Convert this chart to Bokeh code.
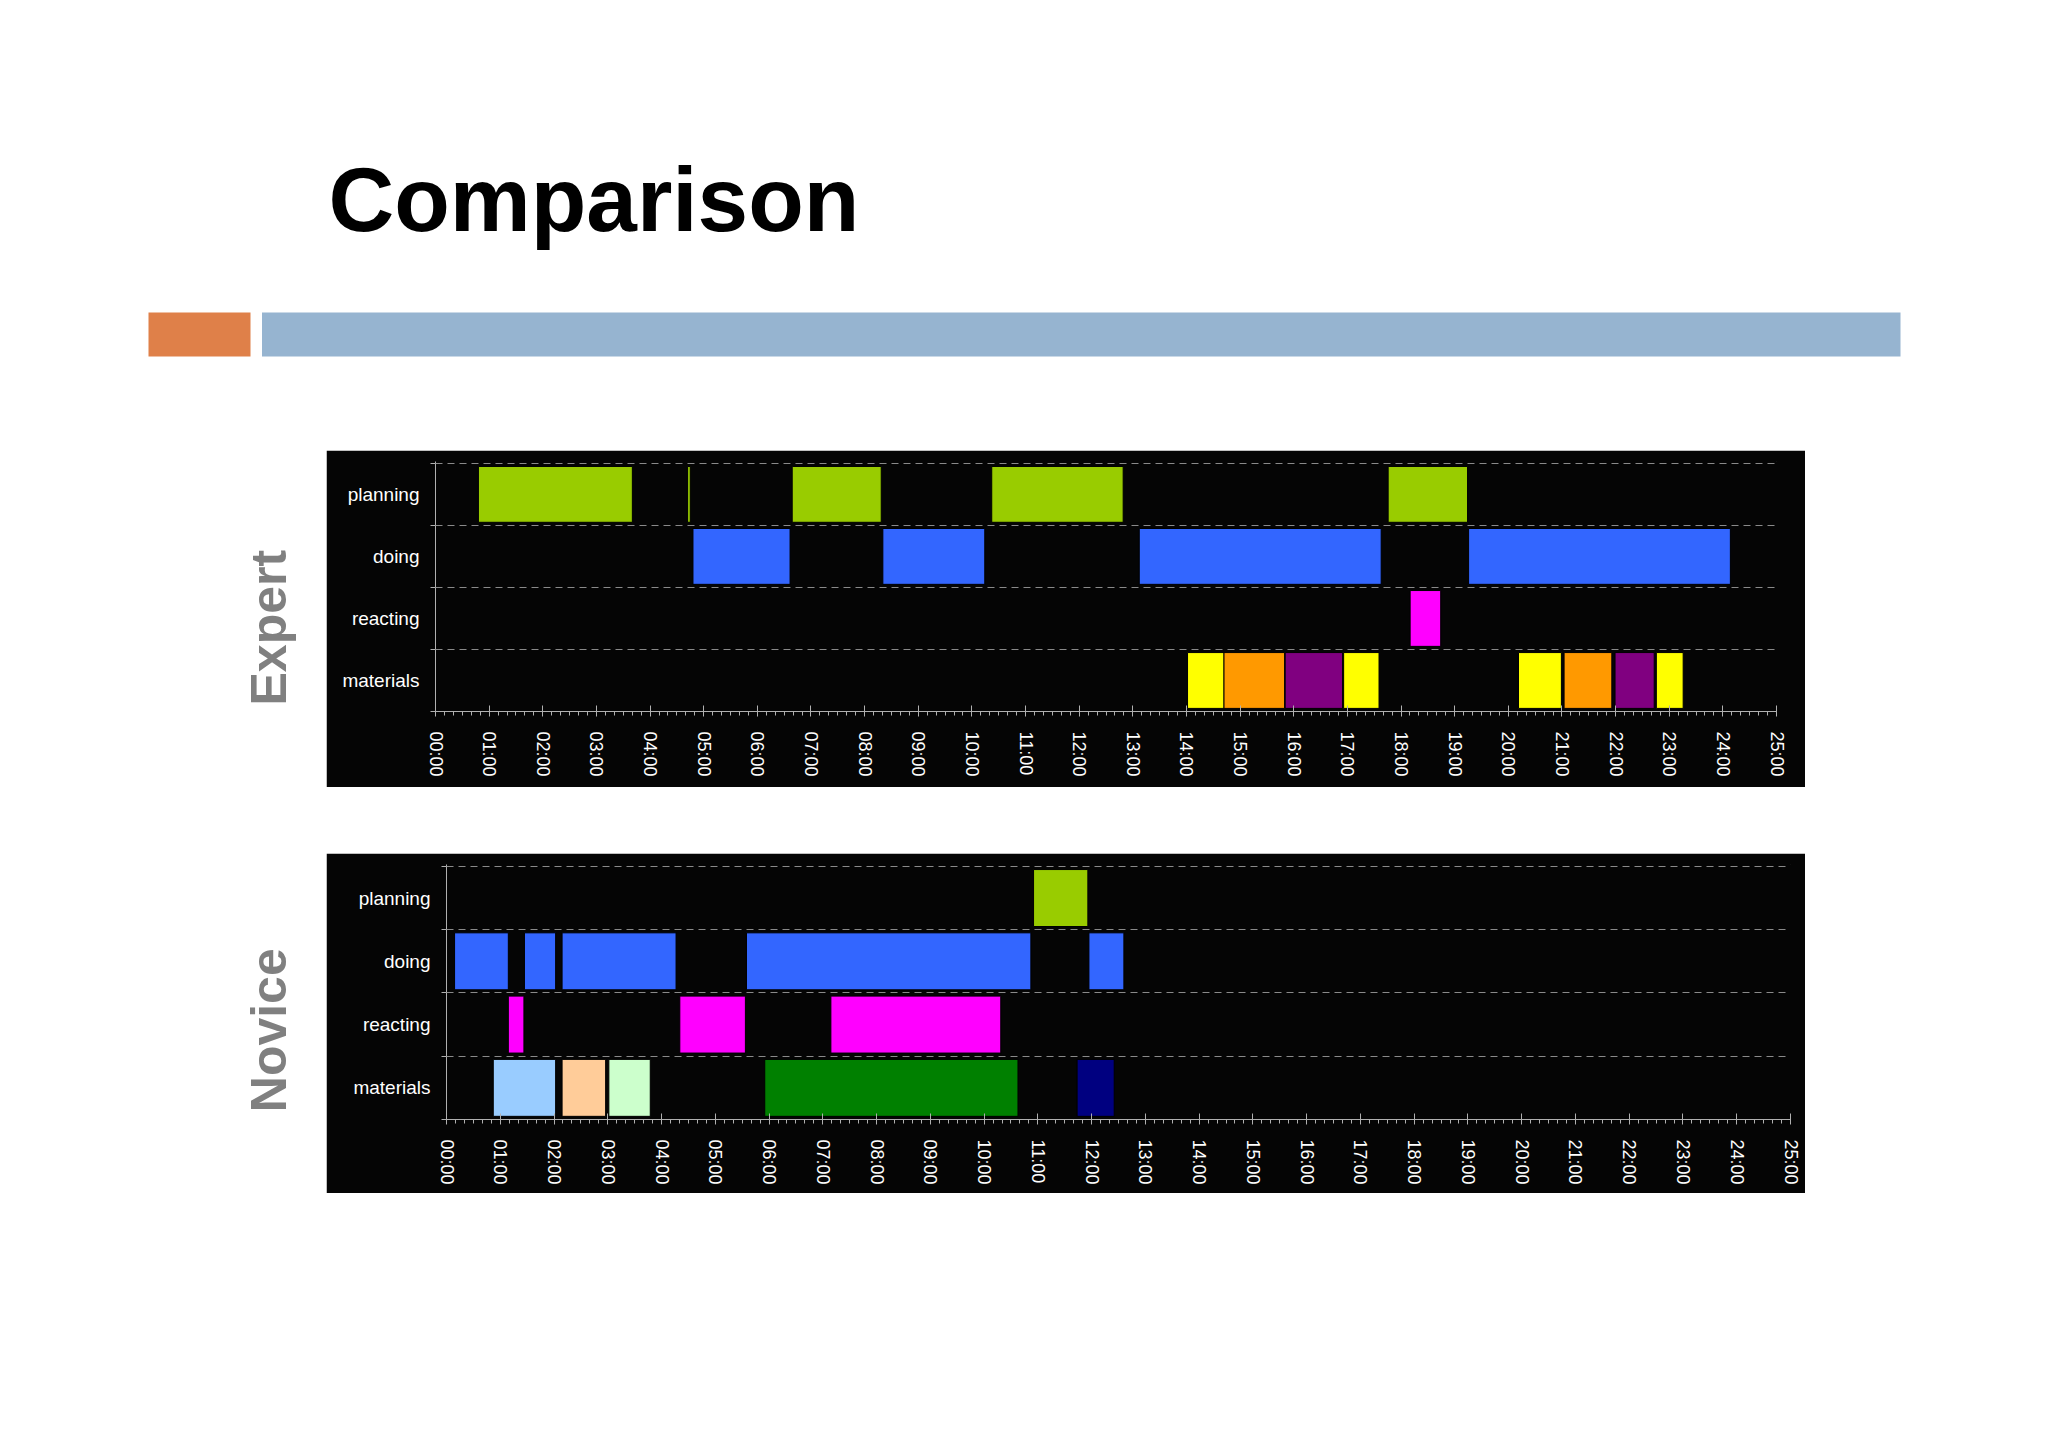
import math
from bokeh.plotting import figure
from bokeh.models import Range1d, FixedTicker, ColumnDataSource, Spacer
from bokeh.layouts import column, row
from bokeh.embed import file_html
from bokeh.resources import INLINE
from bokeh.core.properties import value

# ---------------- data ----------------
title_text = "Comparison"
panel_names = ["Expert", "Novice"]
categories = ["materials", "reacting", "doing", "planning"]  # bottom -> top
hour_ticks = list(range(0, 26))
hour_labels = [f"{h:02d}:00" for h in hour_ticks]

expert_row = (["planning"] * 5 + ["doing"] * 4 + ["reacting"] + ["materials"] * 8)
expert_start = [0.80, 4.70, 6.65, 10.37, 17.76,
                4.80, 8.34, 13.12, 19.26,
                18.17,
                14.02, 14.70, 15.84, 16.93, 20.19, 21.04, 21.99, 22.76]
expert_end = [3.67, 4.75, 8.31, 12.82, 19.24,
              6.61, 10.24, 17.63, 24.14,
              18.74,
              14.70, 15.83, 16.91, 17.59, 20.99, 21.93, 22.72, 23.26]
expert_kind = (["planning"] * 5 + ["doing"] * 4 + ["reacting"] +
               ["material A", "material B", "material C", "material A",
                "material A", "material B", "material C", "material A"])

novice_row = (["planning"] + ["doing"] * 5 + ["reacting"] * 3 + ["materials"] * 5)
novice_start = [10.92,
                0.15, 1.45, 2.15, 5.58, 11.95,
                1.15, 4.34, 7.15,
                0.87, 2.15, 3.02, 5.92, 11.73]
novice_end = [11.93,
              1.15, 2.03, 4.27, 10.87, 12.60,
              1.44, 5.56, 10.31,
              2.03, 2.96, 3.79, 10.63, 12.42]
novice_kind = (["planning"] + ["doing"] * 5 + ["reacting"] * 3 +
               ["material D", "material E", "material F", "material G", "material H"])

# ---------------- styles ----------------
kind_colors = {
    "planning": "#99CC00",
    "doing": "#3366FF",
    "reacting": "#FF00FF",
    "material A": "#FFFF00",
    "material B": "#FF9900",
    "material C": "#800080",
    "material D": "#99CCFF",
    "material E": "#FFCC99",
    "material F": "#CCFFCC",
    "material G": "#008000",
    "material H": "#000080",
}
FONT = "Liberation Sans"
BG = "#050505"

PAGE_W = 2032
HEADER_H = 442
LABEL_W = 318
CHART_W = 1479
Y_PAD = 0.03  # small headroom so the top dashed grid line stays inside the frame


def make_chart(rows, starts, ends, kinds, height, borders):
    left_b, right_b, top_b, bottom_b = borders
    p = figure(width=CHART_W, height=height, output_backend="svg",
               toolbar_location=None, x_range=Range1d(0, 25),
               y_range=Range1d(0, len(categories) + Y_PAD),
               min_border_left=left_b, min_border_right=right_b,
               min_border_top=top_b, min_border_bottom=bottom_b)
    p.background_fill_color = BG
    p.border_fill_color = BG
    p.outline_line_color = BG
    p.outline_line_width = 1

    src = ColumnDataSource(dict(
        y=[categories.index(r) + 0.5 for r in rows],
        left=starts, right=ends,
        color=[kind_colors[k] for k in kinds],
    ))
    p.hbar(y="y", left="left", right="right", height=0.9, source=src,
           fill_color="color", line_color="#000000", line_width=1)

    # x axis
    xa = p.xaxis[0]
    xa.ticker = FixedTicker(ticks=hour_ticks,
                            minor_ticks=[h / 6 for h in range(0, 25 * 6 + 1)])
    xa.major_label_overrides = {h: lab for h, lab in zip(hour_ticks, hour_labels)}
    xa.major_label_orientation = -math.pi / 2
    xa.major_label_text_color = "white"
    xa.major_label_text_font = FONT
    xa.major_label_text_font_size = "18px"
    xa.major_label_standoff = 15
    xa.axis_line_color = "#b0b0b0"
    xa.major_tick_line_color = "#b0b0b0"
    xa.minor_tick_line_color = "#b0b0b0"
    xa.major_tick_in = 6
    xa.major_tick_out = 5
    xa.minor_tick_in = 0
    xa.minor_tick_out = 4

    # y axis
    ya = p.yaxis[0]
    ya.ticker = FixedTicker(ticks=[i + 0.5 for i in range(len(categories))],
                            minor_ticks=list(range(len(categories) + 1)))
    ya.major_label_overrides = {i + 0.5: c for i, c in enumerate(categories)}
    ya.major_label_text_color = "white"
    ya.major_label_text_font = FONT
    ya.major_label_text_font_size = "19px"
    ya.major_label_standoff = 10
    ya.major_tick_line_color = None
    ya.axis_line_color = "#b0b0b0"
    ya.minor_tick_line_color = "#b0b0b0"
    ya.minor_tick_in = 5
    ya.minor_tick_out = 5

    p.xgrid.visible = False
    p.ygrid.ticker = FixedTicker(ticks=list(range(1, len(categories) + 1)))
    p.ygrid.grid_line_color = "#8a8a8a"
    p.ygrid.grid_line_dash = "7 5"
    p.ygrid.grid_line_width = 1
    p.ygrid.level = "overlay"
    return p


def blank(width, height):
    f = figure(width=width, height=height, output_backend="svg",
               toolbar_location=None, x_range=Range1d(0, width),
               y_range=Range1d(height, 0), min_border=0)
    f.axis.visible = False
    f.grid.visible = False
    f.outline_line_color = None
    f.background_fill_color = "white"
    f.border_fill_color = "white"
    return f


# ---------------- header ----------------
header = blank(PAGE_W - 8, HEADER_H)
header.text(x=[320], y=[191], text=[title_text], text_font=value(FONT),
            text_font_style="bold", text_font_size="91px", text_color="black",
            text_baseline="alphabetic", text_align="left")
header.quad(left=[140], right=[242], top=[304], bottom=[348],
            fill_color="#DF8049", line_color=None)
header.quad(left=[253.5], right=[1892], top=[304], bottom=[348],
            fill_color="#96B4D0", line_color=None)

# ---------------- expert ----------------
EXP_H = 337
exp_label = blank(LABEL_W, EXP_H)
exp_label.text(x=[260], y=[224], text=[panel_names[0]], text_font=value(FONT),
               text_font_style="bold", text_font_size="50px", text_color="#808080",
               angle=math.pi / 2, text_align="center", text_baseline="alphabetic")
exp_chart = make_chart(expert_row, expert_start, expert_end, expert_kind, EXP_H,
                       (109, 29, 11, 76))

# ---------------- novice ----------------
NOV_H = 340
nov_label = blank(LABEL_W, NOV_H)
nov_label.text(x=[260], y=[221], text=[panel_names[1]], text_font=value(FONT),
               text_font_style="bold", text_font_size="50px", text_color="#808080",
               angle=math.pi / 2, text_align="center", text_baseline="alphabetic")
nov_chart = make_chart(novice_row, novice_start, novice_end, novice_kind, NOV_H,
                       (120, 15, 11, 74))

content = column(
    header,
    row(exp_label, exp_chart),
    Spacer(width=10, height=66),
    row(nov_label, nov_chart),
)
layout = column(Spacer(width=10, height=8), row(Spacer(width=8, height=10), content))

open("out.html", "w").write(file_html(layout, INLINE))
